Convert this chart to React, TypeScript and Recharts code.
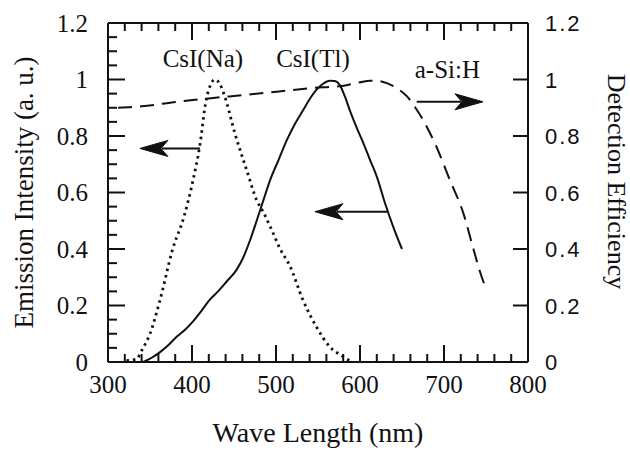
import { LineChart, Line, XAxis, YAxis, ReferenceLine, ReferenceDot } from "recharts";

// CsI(Na) emission (dotted)
const naWave = [322, 334, 340, 350, 362, 377, 390, 401, 409, 417, 422, 427, 433, 439, 451, 465, 477, 485, 493, 505, 517, 532, 548, 564, 580, 590];
const naEmission = [0.005, 0.01, 0.04, 0.1, 0.22, 0.4, 0.51, 0.64, 0.76, 0.93, 0.98, 1.0, 0.985, 0.94, 0.81, 0.68, 0.573, 0.53, 0.48, 0.4, 0.337, 0.22, 0.125, 0.054, 0.019, 0];

// CsI(Tl) emission (solid)
const tlWave = [342, 352, 362, 372, 382, 392, 401, 411, 421, 431, 441, 453, 461, 469, 477, 485, 493, 503, 513, 522, 532, 540, 548, 556, 564, 570, 576, 582, 588, 596, 604, 612, 620, 630, 640, 650];
const tlEmission = [0, 0.015, 0.035, 0.06, 0.09, 0.115, 0.143, 0.18, 0.22, 0.25, 0.284, 0.326, 0.37, 0.43, 0.5, 0.573, 0.644, 0.715, 0.786, 0.84, 0.89, 0.93, 0.963, 0.985, 0.996, 0.995, 0.98, 0.94, 0.89, 0.83, 0.775, 0.715, 0.656, 0.56, 0.475, 0.4];

// a-Si:H detection efficiency (dashed, right axis)
const siWave = [312, 340, 382, 420, 461, 501, 540, 584, 600, 612, 622, 632, 644, 656, 666, 675, 691, 707, 723, 735, 745, 751];
const siEfficiency = [0.9, 0.905, 0.921, 0.933, 0.945, 0.957, 0.969, 0.98, 0.99, 0.996, 0.995, 0.987, 0.969, 0.94, 0.9, 0.857, 0.762, 0.644, 0.527, 0.4, 0.3, 0.255];

const xLabelTicks = [300, 400, 500, 600, 700, 800];
const xMarkTicks = [300, 320, 340, 360, 380, 400, 420, 440, 460, 480, 500, 520, 540, 560, 580, 600, 620, 640, 660, 680, 700, 720, 740, 760, 780, 800];
const leftLabelTicks = [0, 0.2, 0.4, 0.6, 0.8, 1, 1.2];
const leftMarkTicks = [0, 0.05, 0.1, 0.15, 0.2, 0.25, 0.3, 0.35, 0.4, 0.45, 0.5, 0.55, 0.6, 0.65, 0.7, 0.75, 0.8, 0.85, 0.9, 0.95, 1, 1.05, 1.1, 1.15, 1.2];
const rightTicks = [0, 0.2, 0.4, 0.6, 0.8, 1, 1.2];

// text labels placed in data coordinates
const curveLabels = ["CsI(Na)", "CsI(Tl)", "a-Si:H"];
const curveLabelX = [413, 544, 704];
const curveLabelY = [1.044, 1.044, 1.005];

// arrows: from tail to tip, in data coordinates
const arrowFrom = [409.5, 633, 667.5];
const arrowTo = [338, 546.4, 746.4];
const arrowY = [0.756, 0.532, 0.921];
const arrowAxis = ["left", "left", "right"];

const X_MIN = 300;
const X_MAX = 800;
const Y_MAX = 1.2;
// plot box is 420 x 339 px; turns tick lengths in px into axis units
const NM_PER_PX = (X_MAX - X_MIN) / 420;
const Y_PER_PX = Y_MAX / 339;

const naData = naWave.map((x, i) => ({ x, y: naEmission[i] }));
const tlData = tlWave.map((x, i) => ({ x, y: tlEmission[i] }));
const siData = siWave.map((x, i) => ({ x, y: siEfficiency[i] }));

const isMajor = (v: number, step: number) => Math.abs(v / step - Math.round(v / step)) < 1e-6;

type Seg = { axis: string; a: { x: number; y: number }; b: { x: number; y: number } };

// inward tick marks + top frame edge, as short segments
const markSegments: Seg[] = [
  { axis: "left", a: { x: X_MIN, y: Y_MAX }, b: { x: X_MAX, y: Y_MAX } },
  ...xMarkTicks.map((v) => ({
    axis: "left",
    a: { x: v, y: 0 },
    b: { x: v, y: (isMajor(v, 100) ? 17 : 8) * Y_PER_PX },
  })),
  ...xMarkTicks.map((v) => ({
    axis: "left",
    a: { x: v, y: Y_MAX },
    b: { x: v, y: Y_MAX - (isMajor(v, 100) ? 17 : 8) * Y_PER_PX },
  })),
  ...leftMarkTicks.map((v) => ({
    axis: "left",
    a: { x: X_MIN, y: v },
    b: { x: X_MIN + (isMajor(v, 0.2) ? 17 : 9) * NM_PER_PX, y: v },
  })),
  ...rightTicks.map((v) => ({
    axis: "right",
    a: { x: X_MAX, y: v },
    b: { x: X_MAX - 15 * NM_PER_PX, y: v },
  })),
];

const INK = "#111";
const SERIF = "'Liberation Serif', 'Times New Roman', serif";
const SANS = "'Liberation Sans', Arial, sans-serif";

const bottomTick = ({ x, y, payload }: any) => (
  <text x={x} y={y + 31} textAnchor="middle" fontFamily={SERIF} fontSize={25} fill={INK}>
    {payload.value}
  </text>
);

const leftTick = ({ x, y, payload }: any) => (
  <text x={x - 20} y={y + 8.5} textAnchor="end" fontFamily={SERIF} fontSize={25} fill={INK}>
    {String(payload.value)}
  </text>
);

const rightTick = ({ x, y, payload }: any) => (
  <text x={x + 17} y={y + 8} textAnchor="start" fontFamily={SANS} fontSize={22} letterSpacing={2} fill={INK}>
    {String(payload.value)}
  </text>
);

const Mark = ({ x1, y1, x2, y2 }: any) => (
  <g>
    <line x1={x1} y1={y1} x2={x2} y2={y2} stroke={INK} strokeWidth={2} />
  </g>
);

const Arrow = ({ x1, y1, x2, y2 }: any) => {
  const dir = x2 > x1 ? 1 : -1;
  const head = `M${x2},${y2} L${x2 - dir * 28},${y2 - 8} L${x2 - dir * 21},${y2} L${x2 - dir * 28},${y2 + 8} Z`;
  return (
    <g>
      <line x1={x1} y1={y1} x2={x2 - dir * 22} y2={y2} stroke={INK} strokeWidth={2} />
      <path d={head} fill={INK} stroke={INK} strokeWidth={1} />
    </g>
  );
};

const axisLine = { stroke: INK, strokeWidth: 2 };

export default function App() {
  return (
    <div style={{ position: "absolute", left: 0, top: 0, background: "#fff" }}>
      <LineChart width={630} height={450} margin={{ top: 23, right: 0, bottom: 0, left: 0 }}>
        <XAxis
          dataKey="x"
          type="number"
          domain={[X_MIN, X_MAX]}
          ticks={xLabelTicks}
          interval={0}
          tickSize={0}
          tickMargin={0}
          height={88}
          axisLine={axisLine}
          tickLine={false}
          tick={bottomTick}
          label={{
            content: ({ viewBox }: any) => (
              <text
                x={viewBox.x + viewBox.width / 2}
                y={viewBox.y + 80}
                textAnchor="middle"
                fontFamily={SERIF}
                fontSize={28}
                fill={INK}
              >
                Wave Length (nm)
              </text>
            ),
          }}
        />
        <YAxis
          yAxisId="left"
          type="number"
          domain={[0, Y_MAX]}
          ticks={leftLabelTicks}
          interval={0}
          tickSize={0}
          tickMargin={0}
          width={108}
          axisLine={axisLine}
          tickLine={false}
          tick={leftTick}
          label={{
            content: ({ viewBox }: any) => {
              const cx = viewBox.x + 33;
              const cy = viewBox.y + viewBox.height / 2;
              return (
                <text
                  x={cx}
                  y={cy}
                  transform={`rotate(-90 ${cx} ${cy})`}
                  textAnchor="middle"
                  fontFamily={SERIF}
                  fontSize={27}
                  fill={INK}
                >
                  Emission Intensity (a. u.)
                </text>
              );
            },
          }}
        />
        <YAxis
          yAxisId="right"
          orientation="right"
          type="number"
          domain={[0, Y_MAX]}
          ticks={rightTicks}
          interval={0}
          tickSize={0}
          tickMargin={0}
          width={102}
          axisLine={axisLine}
          tickLine={false}
          tick={rightTick}
          label={{
            content: ({ viewBox }: any) => {
              const cx = viewBox.x + 80;
              const cy = viewBox.y + viewBox.height / 2 - 11;
              return (
                <text
                  x={cx}
                  y={cy}
                  transform={`rotate(90 ${cx} ${cy})`}
                  textAnchor="middle"
                  fontFamily={SERIF}
                  fontSize={26}
                  fill={INK}
                >
                  Detection Efficiency
                </text>
              );
            },
          }}
        />

        <Line
          data={siData}
          dataKey="y"
          yAxisId="right"
          type="monotone"
          stroke={INK}
          strokeWidth={2}
          strokeDasharray="14 8"
          dot={false}
          activeDot={false}
          isAnimationActive={false}
        />
        <Line
          data={naData}
          dataKey="y"
          yAxisId="left"
          type="monotone"
          stroke={INK}
          strokeWidth={2.8}
          strokeDasharray="2.5 4"
          dot={false}
          activeDot={false}
          isAnimationActive={false}
        />
        <Line
          data={tlData}
          dataKey="y"
          yAxisId="left"
          type="monotone"
          stroke={INK}
          strokeWidth={2}
          dot={false}
          activeDot={false}
          isAnimationActive={false}
        />

        {arrowFrom.map((x0, i) => (
          <ReferenceLine
            key={`arrow-${i}`}
            yAxisId={arrowAxis[i]}
            segment={[
              { x: x0, y: arrowY[i] },
              { x: arrowTo[i], y: arrowY[i] },
            ]}
            ifOverflow="visible"
            shape={(p: any) => <Arrow {...p} />}
          />
        ))}

        {markSegments.map((s, i) => (
          <ReferenceLine
            key={`mark-${i}`}
            yAxisId={s.axis}
            segment={[s.a, s.b]}
            ifOverflow="visible"
            shape={(p: any) => <Mark {...p} />}
          />
        ))}

        {curveLabels.map((text, i) => (
          <ReferenceDot
            key={`label-${i}`}
            yAxisId="left"
            x={curveLabelX[i]}
            y={curveLabelY[i]}
            r={0}
            ifOverflow="visible"
            shape={(p: any) => (
              <text x={p.cx} y={p.cy} textAnchor="middle" fontFamily={SERIF} fontSize={25} fill={INK}>
                {text}
              </text>
            )}
          />
        ))}
      </LineChart>
    </div>
  );
}
